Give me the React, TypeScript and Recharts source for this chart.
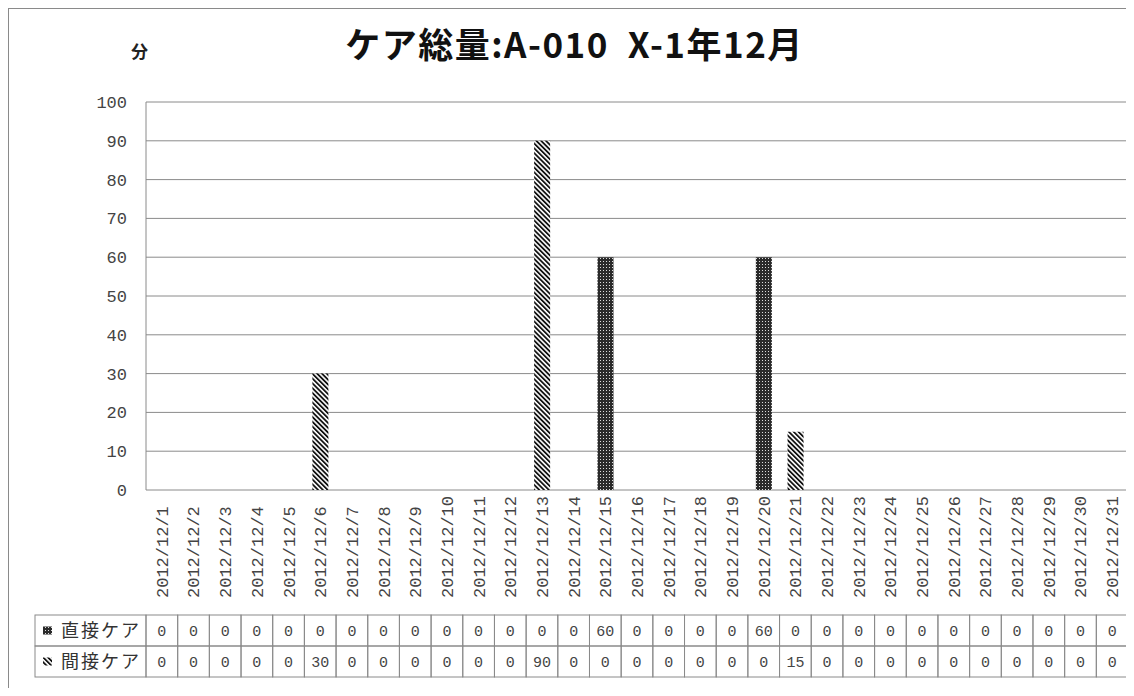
import { BarChart, Bar, XAxis, YAxis, CartesianGrid } from "recharts"

const days = [
  "2012/12/1", "2012/12/2", "2012/12/3", "2012/12/4", "2012/12/5", "2012/12/6",
  "2012/12/7", "2012/12/8", "2012/12/9", "2012/12/10", "2012/12/11", "2012/12/12",
  "2012/12/13", "2012/12/14", "2012/12/15", "2012/12/16", "2012/12/17", "2012/12/18",
  "2012/12/19", "2012/12/20", "2012/12/21", "2012/12/22", "2012/12/23", "2012/12/24",
  "2012/12/25", "2012/12/26", "2012/12/27", "2012/12/28", "2012/12/29", "2012/12/30",
  "2012/12/31",
]
const directCare = [
  0, 0, 0, 0, 0, 0, 0, 0, 0, 0, 0, 0, 0, 0, 60, 0, 0, 0, 0, 60, 0, 0, 0, 0, 0, 0, 0, 0, 0, 0, 0,
]
const indirectCare = [
  0, 0, 0, 0, 0, 30, 0, 0, 0, 0, 0, 0, 90, 0, 0, 0, 0, 0, 0, 0, 15, 0, 0, 0, 0, 0, 0, 0, 0, 0, 0,
]
const yTicks = [0, 10, 20, 30, 40, 50, 60, 70, 80, 90, 100]

const LINE = "#8a8a8a"
const TEXT = "#444"
const NUM_FONT = "'Liberation Mono', 'DejaVu Sans Mono', monospace"
const JP_FONT = "'Noto Sans CJK JP', sans-serif"
const ROW_H = 31
const TABLE_LEFT = 27

const chartData = days.map((d, i) => ({ day: d, direct: directCare[i], indirect: indirectCare[i] }))

function DateTick({ x, y, payload }: any) {
  return (
    <g transform={`translate(${x},${y})`}>
      <text
        transform="rotate(-90)"
        x={-108}
        y={0}
        dy="0.35em"
        textAnchor="start"
        fontFamily={NUM_FONT}
        fontSize={17}
        fill={TEXT}
      >
        {payload.value}
      </text>
    </g>
  )
}

function RowTick({ x, y, payload, values, label, pattern }: any) {
  const i = days.indexOf(payload.value)
  const half = payload.offset || 982 / 62
  const left = x - half
  return (
    <g>
      <rect x={left} y={y} width={half * 2} height={ROW_H} fill="none" stroke={LINE} />
      <text x={x} y={y + ROW_H / 2} dy="0.35em" textAnchor="middle" fontFamily={NUM_FONT} fontSize={15} fill={TEXT}>
        {values[i]}
      </text>
      {i === 0 && (
        <g>
          <rect x={TABLE_LEFT} y={y} width={left - TABLE_LEFT} height={ROW_H} fill="none" stroke={LINE} />
          <rect x={TABLE_LEFT + 8} y={y + ROW_H / 2 - 4} width={9} height={8} fill={`url(#${pattern})`} />
          <text x={TABLE_LEFT + 26} y={y + ROW_H / 2} dy="0.36em" fontFamily={JP_FONT} fontSize={18} fill="#333" letterSpacing={2}>
            {label}
          </text>
        </g>
      )}
    </g>
  )
}

export default function App() {
  return (
    <div style={{ position: "relative", width: 1126, height: 688, marginBottom: -8, overflow: "hidden" }}>
      <div style={{ position: "absolute", left: 0, top: 0, width: 1120, height: 720, border: `1px solid ${LINE}` }} />
      <div
        style={{
          position: "absolute", left: 0, width: 1133, top: 15, textAlign: "center",
          fontFamily: JP_FONT, fontWeight: 700, fontSize: 35, letterSpacing: 1.5, color: "#111", lineHeight: "40px",
        }}
      >
        ケア総量:A-010&nbsp;&nbsp;X-1年12月
      </div>
      <div style={{ position: "absolute", left: 123, top: 30, fontFamily: JP_FONT, fontWeight: 700, fontSize: 17, color: "#222" }}>
        分
      </div>
      <div style={{ position: "absolute", left: 0, top: 0 }}>
        <BarChart
          width={1121}
          height={679}
          data={chartData}
          margin={{ top: 94, right: 1, left: 78, bottom: 10 }}
          barSize={16}
        >
          <defs>
            <pattern id="pIndirect" width="3.4" height="3.4" patternUnits="userSpaceOnUse" patternTransform="rotate(-45)">
              <rect width="3.4" height="3.4" fill="#fff" />
              <rect width="1.8" height="3.4" fill="#111" />
            </pattern>
            <pattern id="pDirect" width="3" height="3" patternUnits="userSpaceOnUse">
              <rect width="3" height="3" fill="#2a2a2a" />
              <rect x="1" y="1" width="1" height="1" fill="#ddd" />
            </pattern>
          </defs>
          <CartesianGrid vertical={false} stroke={LINE} />
          <XAxis
            xAxisId="date"
            dataKey="day"
            height={125}
            interval={0}
            axisLine={false}
            tickLine={false}
            tickSize={0}
            tickMargin={0}
            tick={<DateTick />}
          />
          <XAxis
            xAxisId="r1"
            dataKey="day"
            height={ROW_H}
            interval={0}
            axisLine={false}
            tickLine={false}
            tickSize={0}
            tickMargin={0}
            tick={(p: any) => <RowTick {...p} values={directCare} label="直接ケア" pattern="pDirect" />}
          />
          <XAxis
            xAxisId="r2"
            dataKey="day"
            height={ROW_H}
            interval={0}
            axisLine={false}
            tickLine={false}
            tickSize={0}
            tickMargin={0}
            tick={(p: any) => <RowTick {...p} values={indirectCare} label="間接ケア" pattern="pIndirect" />}
          />
          <YAxis
            width={60}
            domain={[0, 100]}
            ticks={yTicks}
            interval={0}
            axisLine={{ stroke: LINE }}
            tickLine={false}
            tickSize={0}
            tickMargin={19}
            tick={{ fontFamily: NUM_FONT, fontSize: 17, fill: TEXT }}
          />
          <Bar xAxisId="date" dataKey="direct" stackId="a" fill="url(#pDirect)" isAnimationActive={false} />
          <Bar xAxisId="date" dataKey="indirect" stackId="a" fill="url(#pIndirect)" isAnimationActive={false} />
        </BarChart>
      </div>
    </div>
  )
}
